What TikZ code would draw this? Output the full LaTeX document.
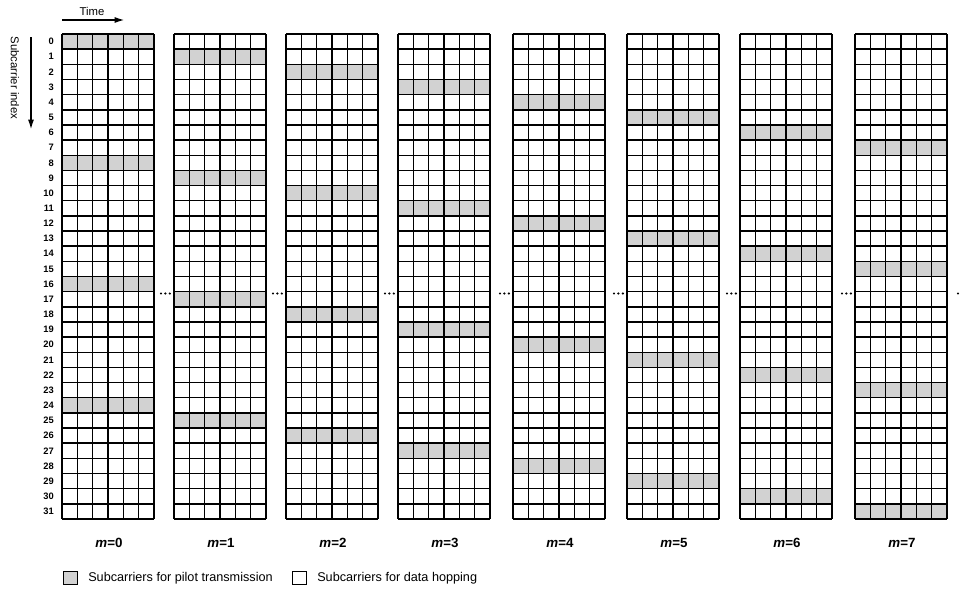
\documentclass[tikz,border=0pt]{standalone}
\usepackage{fontspec}
\setmainfont{Liberation Sans}
\usetikzlibrary{arrows.meta}
\begin{document}
\begin{tikzpicture}[x=0.75pt,y=-0.75pt,
  gridline/.style={line width=1.1pt, draw=black},
  pilotcell/.style={fill=gray!35},
  rowlab/.style={anchor=east, inner sep=0pt, font=\fontsize{7}{8}\selectfont\bfseries},
  mlab/.style={inner sep=0pt, font=\fontsize{10}{12}\selectfont\bfseries},
  legtext/.style={anchor=west, inner sep=0pt, font=\fontsize{9.5}{11}\selectfont},
  axlab/.style={inner sep=0pt, font=\fontsize{8.5}{10}\selectfont},
  dots/.style={line width=1.8pt, line cap=round, dash pattern=on 0pt off 3.3pt},
  axarrow/.style={line width=0.8pt, -{Latex[length=7pt,width=4.5pt]}},
  legbox/.style={draw=black, line width=0.7pt}]
\useasboundingbox (0,0) rectangle (965,600);
% grids
\foreach \m/\gx in {0/62,1/174,2/286,3/398,4/513,5/627,6/740,7/855} {
  \foreach \k in {0,1,2,3} {
    \fill[pilotcell] (\gx,{34+(\m+8*\k)*15.156}) rectangle ++(92,15.156);
  }
  \foreach \i in {0,...,6} {
    \draw[gridline] ({\gx+\i*15.333},34) -- ++(0,485);
  }
  \foreach \j in {0,...,32} {
    \draw[gridline] (\gx,{34+\j*15.156}) -- ++(92,0);
  }
  \node[mlab] (m\m) at ({\gx+47},543) {\textit{m}=\m};
  \ifnum\m>0
    \draw[dots] ({\gx-13},293.5) -- ({\gx-4},293.5);
  \fi
}
\draw[dots] (958,293.5) -- (962,293.5);
% row labels
\foreach \r in {0,...,31} {
  \node[rowlab] (r\r) at (54,{34+(\r+0.5)*15.156}) {\r};
}
% axes
\node[axlab] (time) at (92,11) {Time};
\coordinate (t0) at (62,20);
\coordinate (t1) at (124,20);
\draw[axarrow] (t0) -- (t1);
\node[axlab, rotate=-90] (sub) at (15,78) {Subcarrier index};
\coordinate (s0) at (31,37);
\coordinate (s1) at (31,129);
\draw[axarrow] (s0) -- (s1);
% legend
\node[legbox, fill=gray!35, minimum width=10.5pt, minimum height=10pt, inner sep=0pt] (lp) at (70,578) {};
\node[legtext] (lpt) at (88,578) {Subcarriers for pilot transmission};
\node[legbox, fill=white, minimum width=11pt, minimum height=10pt, inner sep=0pt] (ld) at (299.5,578) {};
\node[legtext] (ldt) at (317,578) {Subcarriers for data hopping};
\end{tikzpicture}
\end{document}
